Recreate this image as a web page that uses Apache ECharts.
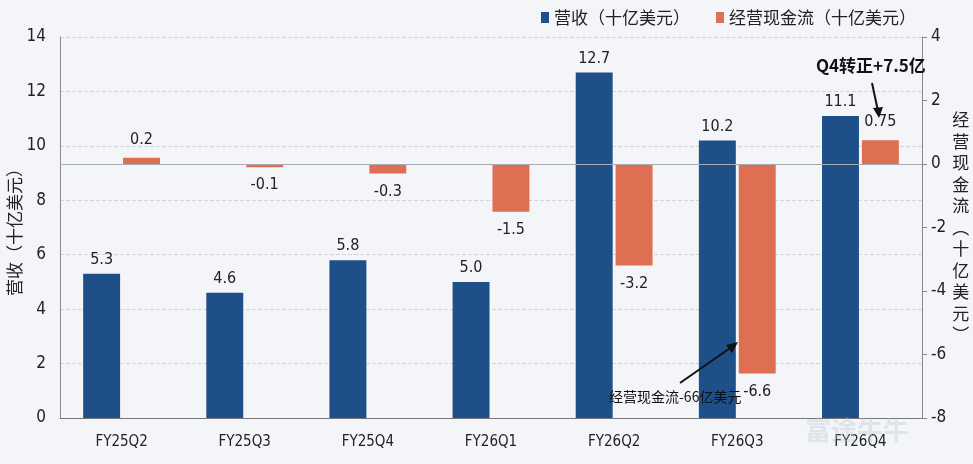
<!DOCTYPE html>
<html>
<head>
<meta charset="utf-8">
<script src="https://cdn.jsdelivr.net/npm/echarts@6/dist/echarts.min.js"></script>
<style>
    html, body { margin: 0; padding: 0; background: #f3f5f9; }
    #main { width: 973px; height: 464px; }
</style>
</head>
<body>
<div id="main"></div>
<script>
    var quarters = ['FY25Q2', 'FY25Q3', 'FY25Q4', 'FY26Q1', 'FY26Q2', 'FY26Q3', 'FY26Q4'];
    var revenue = [5.3, 4.6, 5.8, 5.0, 12.7, 10.2, 11.1];
    var cashFlow = [0.2, -0.1, -0.3, -1.5, -3.2, -6.6, 0.75];

    var FONT = "'DejaVu Sans Condensed', 'Noto Sans CJK SC', sans-serif";
    var CJK = "'Noto Sans CJK SC', sans-serif";
    var BLUE = '#1e4f89';
    var ORANGE = '#de6f52';

    var chart = echarts.init(document.getElementById('main'));

    var rightName = '经营现金流︵十亿美元︶'.split('').join('\n');

    var option = {
        backgroundColor: '#f3f5f9',
        animation: false,
        legend: {
            right: 52,
            top: 4,
            itemWidth: 8,
            itemHeight: 11,
            itemGap: 26,
            icon: 'rect',
            textStyle: { fontFamily: CJK, fontSize: 17, color: '#222' },
            data: ['营收（十亿美元）', '经营现金流（十亿美元）']
        },
        grid: { left: 60, right: 51, top: 37, bottom: 46, outerBoundsMode: 'none', containLabel: false },
        xAxis: {
            type: 'category',
            data: quarters,
            axisLine: { lineStyle: { color: '#777' } },
            axisTick: { show: false },
            axisLabel: { fontFamily: FONT, fontSize: 15, color: '#222', margin: 17 }
        },
        yAxis: [{
            type: 'value',
            min: 0,
            max: 14,
            interval: 2,
            axisLine: { show: true, lineStyle: { color: '#888' } },
            axisTick: { show: false },
            axisLabel: { fontFamily: FONT, fontSize: 17, color: '#222', margin: 14 },
            splitLine: { lineStyle: { color: '#d2d4d8', type: 'dashed' } }
        }, {
            type: 'value',
            min: -8,
            max: 4,
            interval: 2,
            name: rightName,
            nameLocation: 'middle',
            nameRotate: 0,
            nameGap: 25,
            nameTextStyle: { fontFamily: CJK, fontSize: 17, color: '#222', lineHeight: 21.5, align: 'left' },
            axisLine: { show: true, lineStyle: { color: '#888' } },
            axisTick: { show: true, length: 5, lineStyle: { color: '#888' } },
            axisLabel: { fontFamily: FONT, fontSize: 17, color: '#222', margin: 9 },
            splitLine: { show: false }
        }],
        series: [{
            name: '营收（十亿美元）',
            type: 'bar',
            yAxisIndex: 0,
            barWidth: '30%',
            barGap: '8%',
            itemStyle: { color: BLUE },
            label: {
                show: true,
                position: 'top',
                distance: 6,
                fontFamily: FONT,
                fontSize: 16,
                color: '#222',
                formatter: function (p) { return p.value.toFixed(1); }
            },
            data: revenue
        }, {
            name: '经营现金流（十亿美元）',
            type: 'bar',
            yAxisIndex: 1,
            barWidth: '30%',
            itemStyle: { color: ORANGE },
            label: {
                show: true,
                distance: 10,
                fontFamily: FONT,
                fontSize: 16,
                color: '#222',
                formatter: function (p) { return String(p.value); }
            },
            data: cashFlow.map(function (v) {
                return { value: v, label: { position: v < 0 ? 'bottom' : 'top' } };
            }),
            markLine: {
                silent: true,
                symbol: 'none',
                label: { show: false },
                lineStyle: { color: '#a8abb0', type: 'solid', width: 1 },
                data: [{ yAxis: 0 }]
            }
        }],
        graphic: [
            {
                // left axis name
                type: 'text', x: 15, y: 228, rotation: Math.PI / 2, z: 100,
                style: {
                    text: '营收（十亿美元）', font: '17px ' + CJK, fill: '#222',
                    align: 'center', verticalAlign: 'middle'
                }
            },
            {
                type: 'text', left: 609, top: 390, z: 100,
                style: { text: '经营现金流-66亿美元', font: '14px ' + CJK, fill: '#111' }
            },
            {
                type: 'line', z: 100, shape: { x1: 680, y1: 383, x2: 733, y2: 346 },
                style: { stroke: '#111', lineWidth: 2 }
            },
            {
                type: 'polygon', z: 100, shape: { points: [[738, 342], [726, 345], [732, 353]] },
                style: { fill: '#111' }
            },
            {
                type: 'text', left: 816, top: 57, z: 100,
                style: { text: 'Q4转正+7.5亿', font: 'bold 17px ' + CJK, fill: '#111' }
            },
            {
                type: 'line', z: 100, shape: { x1: 872, y1: 83, x2: 878, y2: 111 },
                style: { stroke: '#111', lineWidth: 2 }
            },
            {
                type: 'polygon', z: 100, shape: { points: [[879, 118], [873, 108], [883, 107]] },
                style: { fill: '#111' }
            },
            {
                type: 'text', left: 805, top: 417, z: 100,
                style: { text: '富途牛牛', font: 'bold 26px ' + CJK, fill: 'rgba(190,196,206,0.35)' }
            }
        ]
    };

    chart.setOption(option);
</script>
</body>
</html>
